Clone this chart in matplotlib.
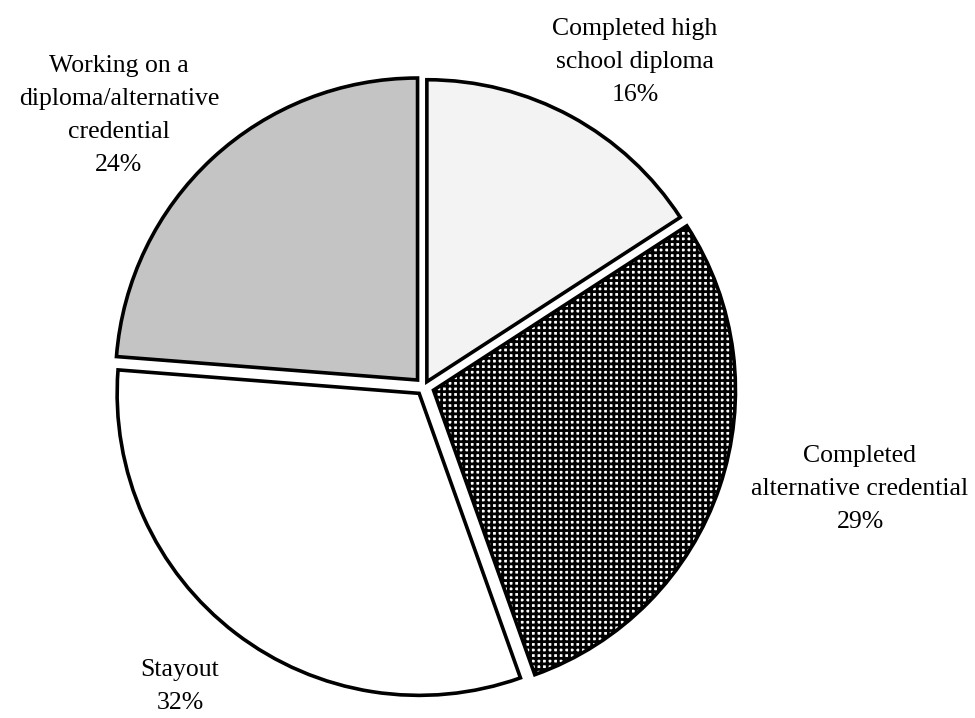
import matplotlib
matplotlib.use("Agg")
import matplotlib.pyplot as plt

plt.rcParams["font.family"] = ["Liberation Serif", "DejaVu Serif"]
plt.rcParams["hatch.linewidth"] = 2.0
plt.rcParams["hatch.color"] = "black"

# Outcomes of the cohort (percent)
categories = [
    "Completed high\nschool diploma",
    "Completed\nalternative credential",
    "Stayout",
    "Working on a\ndiploma/alternative\ncredential",
]
values = [16, 29, 32, 24]
# slice offsets from the centre, in pixels
explode = [6, 10, 8, 9.5]
fills = ["#f3f3f3", "white", "white", "#c4c4c4"]
hatches = [None, "+++", None, None]

W, H = 975, 718
fig = plt.figure(figsize=(W / 100, H / 100), dpi=100)
ax = fig.add_axes([0, 0, 1, 1])


def py(y):
    """Convert a top-down pixel row to the axes' bottom-up y value."""
    return H - y


wedges, _ = ax.pie(
    values,
    center=(424, py(387)),
    radius=302,
    startangle=90,
    counterclock=False,
    explode=explode,
    colors=fills,
    wedgeprops=dict(linewidth=2.6, edgecolor="black"),
)
for w, h in zip(wedges, hatches):
    if h:
        w.set_hatch(h)

ax.set_xlim(0, W)
ax.set_ylim(0, H)
ax.set_aspect("equal")
ax.axis("off")

# label anchors: centre x and first-line baseline (pixel rows)
label_pos = [(635, 35), (860, 462), (180, 676), (119, 72)]
line_step = 33
for name, v, (x, y0) in zip(categories, values, label_pos):
    lines = name.split("\n") + [f"{v}%"]
    for i, line in enumerate(lines):
        ax.text(x, py(y0 + i * line_step), line, ha="center", va="baseline",
                fontsize=18.5, color="black")

fig.savefig("out.png", dpi=100)
